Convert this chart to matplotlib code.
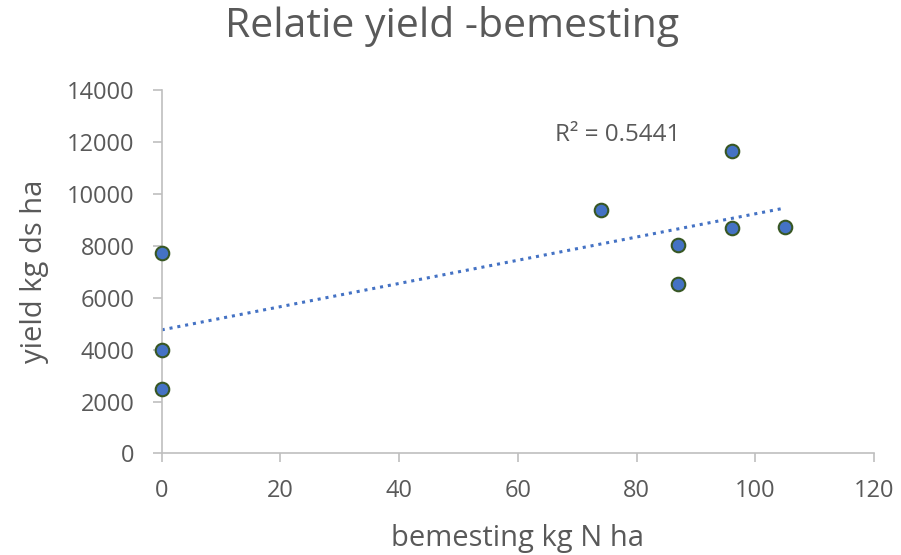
import numpy as np
import matplotlib.pyplot as plt

plt.rcParams['font.family'] = ['Open Sans', 'DejaVu Sans']

# bemesting (kg N/ha) en opbrengst (kg ds/ha)
bemesting = [0, 0, 0, 74, 87, 87, 96, 96, 105]
yield_ds = [7710, 3980, 2470, 9380, 8040, 6537, 11660, 8690, 8720]

x = np.array(bemesting, dtype=float)
y = np.array(yield_ds, dtype=float)
slope, intercept = np.polyfit(x, y, 1)
pred = slope * x + intercept
r2 = 1 - np.sum((y - pred) ** 2) / np.sum((y - y.mean()) ** 2)

grey = '#595959'
fig = plt.figure(figsize=(9.01, 5.55), dpi=100)
ax = fig.add_axes([0.1795, 0.183, 0.7905, 0.655])

xs = np.array([x.min(), x.max()])
ax.plot(xs, slope * xs + intercept, linestyle=(0, (1, 1.6)), color='#4472C4',
        linewidth=2.2, zorder=2)
ax.scatter(x, y, s=95, color='#4472C4', edgecolor='#385723', linewidth=1.5, zorder=3,
           clip_on=False)
ax.text(66.3, 12050, 'R² = %.4f' % r2, fontsize=17.5, color=grey, va='baseline')

ax.set_xlim(0, 120)
ax.set_ylim(0, 14000)
ax.set_xticks(range(0, 121, 20))
ax.set_yticks(range(0, 14001, 2000))
for s in ['top', 'right']:
    ax.spines[s].set_visible(False)
for s in ['left', 'bottom']:
    ax.spines[s].set_color('#BFBFBF')
    ax.spines[s].set_linewidth(1.2)
ax.tick_params(colors='#BFBFBF', labelcolor=grey, labelsize=17, length=6.5, width=1.2)
ax.tick_params(axis='x', pad=12)
ax.tick_params(axis='y', pad=13)

fig.suptitle('Relatie yield -bemesting', fontsize=29.5, color=grey, x=0.502, y=0.933,
             va='baseline')
ax.set_xlabel('bemesting kg N ha', fontsize=21, color=grey, labelpad=15)
ax.set_ylabel('yield kg ds ha', fontsize=21, color=grey, labelpad=13)

fig.savefig('out.png', dpi=100)
